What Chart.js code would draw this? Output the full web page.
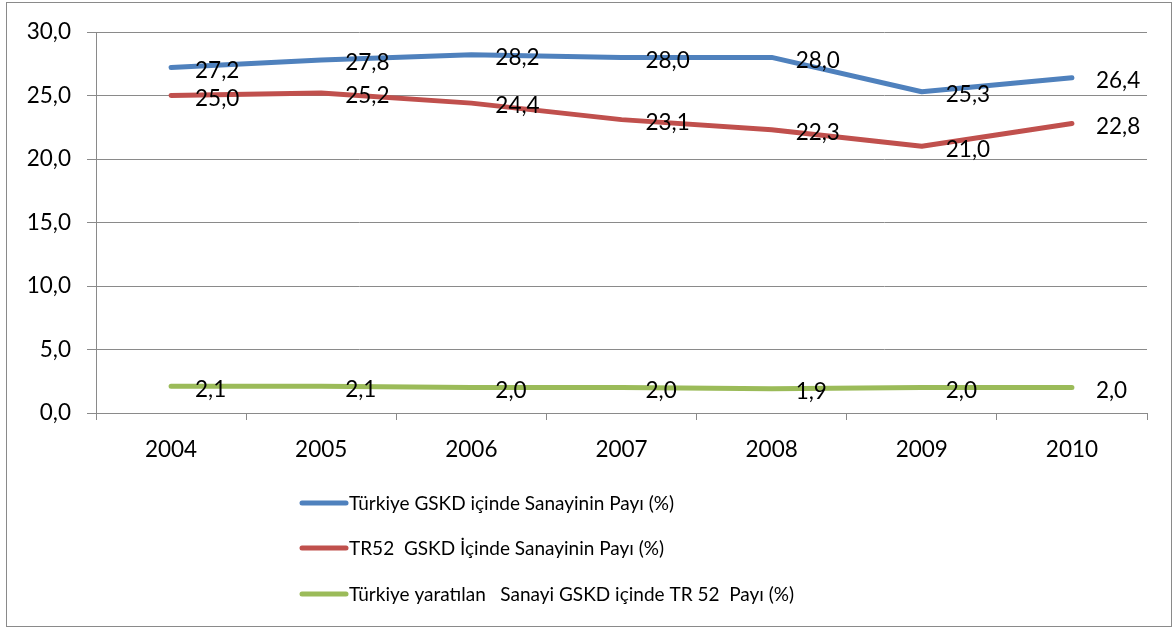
<!DOCTYPE html>
<html>
<head>
<meta charset="utf-8">
<script src="https://cdn.jsdelivr.net/npm/chart.js@4/dist/chart.umd.min.js"></script>
<style>
  html, body { margin: 0; padding: 0; background: #fff; }
  #wrap { width: 1175px; height: 630px; position: relative; }
</style>
</head>
<body>
<div id="wrap"><canvas id="myChart" width="1175" height="630"></canvas></div>
<script>
// data
const years = ['2004', '2005', '2006', '2007', '2008', '2009', '2010'];
const turkiyeShare = [27.2, 27.8, 28.2, 28.0, 28.0, 25.3, 26.4];
const tr52Share = [25.0, 25.2, 24.4, 23.1, 22.3, 21.0, 22.8];
const tr52InTurkiye = [2.1, 2.1, 2.0, 2.0, 1.9, 2.0, 2.0];
const seriesNames = [
    'Türkiye GSKD içinde Sanayinin Payı (%)',
    'TR52  GSKD İçinde Sanayinin Payı (%)',
    'Türkiye yaratılan   Sanayi GSKD içinde TR 52  Payı (%)'
];
const yTicks = [0, 5, 10, 15, 20, 25, 30];

const FONT = 'Lato, "Open Sans", sans-serif';
const gridColor = '#8a8a8a';

function fmt(v) {
    return v.toFixed(1).replace('.', ',');
}

// value labels to the right of each point
const valueLabels = {
    id: 'valueLabels',
    afterDatasetsDraw(chart) {
        const ctx = chart.ctx;
        ctx.save();
        ctx.font = '22.5px ' + FONT;
        ctx.fillStyle = '#000';
        ctx.textAlign = 'left';
        ctx.textBaseline = 'middle';
        chart.data.datasets.forEach(function (ds, i) {
            const meta = chart.getDatasetMeta(i);
            meta.data.forEach(function (pt, j) {
                ctx.fillText(fmt(ds.data[j]), pt.x + 24, pt.y + 3);
            });
        });
        ctx.restore();
    }
};

// vertical legend under the chart + outer frame
const sideLegend = {
    id: 'sideLegend',
    afterDraw(chart) {
        const ctx = chart.ctx;
        ctx.save();
        const rows = [503, 548, 594];
        chart.data.datasets.forEach(function (ds, i) {
            const y = rows[i];
            ctx.strokeStyle = ds.borderColor;
            ctx.lineWidth = 5;
            ctx.lineCap = 'round';
            ctx.beginPath();
            ctx.moveTo(302, y);
            ctx.lineTo(346, y);
            ctx.stroke();
            ctx.fillStyle = '#000';
            ctx.font = '19px ' + FONT;
            ctx.textBaseline = 'middle';
            ctx.fillText(ds.label, 349, y + 1);
        });
        ctx.strokeStyle = '#8a8a8a';
        ctx.lineWidth = 1;
        ctx.strokeRect(6.5, 2.5, 1165, 624);
        ctx.restore();
    }
};

var ctx = document.getElementById('myChart').getContext('2d');
var myChart = new Chart(ctx, {
    type: 'line',
    data: {
        labels: years,
        datasets: [
            { label: seriesNames[0], data: turkiyeShare, borderColor: '#4F81BD' },
            { label: seriesNames[1], data: tr52Share, borderColor: '#C0504D' },
            { label: seriesNames[2], data: tr52InTurkiye, borderColor: '#9BBB59' }
        ]
    },
    plugins: [valueLabels, sideLegend],
    options: {
        responsive: false,
        animation: false,
        layout: { padding: { left: 0, right: 28, top: 32, bottom: 157 } },
        elements: {
            line: { borderWidth: 5, tension: 0, borderCapStyle: 'round', borderJoinStyle: 'round' },
            point: { radius: 0, hoverRadius: 0 }
        },
        plugins: {
            legend: { display: false },
            tooltip: { enabled: false }
        },
        scales: {
            x: {
                offset: true,
                afterFit: function (s) { s.height = 60; },
                grid: {
                    offset: true,
                    drawOnChartArea: false,
                    drawTicks: true,
                    tickLength: 7,
                    color: gridColor
                },
                border: { color: gridColor },
                ticks: { color: '#000', font: { family: FONT, size: 22.5 }, padding: 16, maxRotation: 0 }
            },
            y: {
                min: 0,
                max: 30,
                afterFit: function (s) { s.width = 96; },
                afterBuildTicks: function (s) { s.ticks = yTicks.map(function (v) { return { value: v }; }); },
                grid: { color: gridColor, tickLength: 9 },
                border: { color: gridColor },
                ticks: {
                    color: '#000',
                    font: { family: FONT, size: 22.5 },
                    padding: 16,
                    callback: function (v) { return fmt(v); }
                }
            }
        }
    }
});
</script>
</body>
</html>
